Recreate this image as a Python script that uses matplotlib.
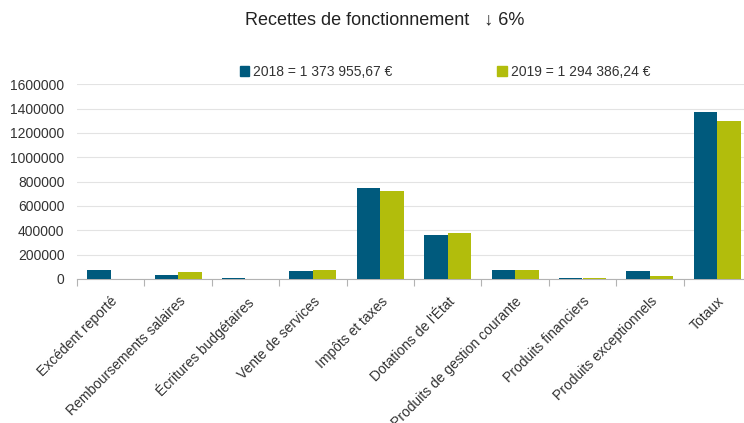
import matplotlib
matplotlib.use("Agg")
import matplotlib.pyplot as plt
from matplotlib.patches import Patch
import numpy as np

plt.rcParams['font.family'] = ['Liberation Sans', 'DejaVu Sans']

categories = ["Excédent reporté", "Remboursements salaires", "Écritures budgétaires",
              "Vente de services", "Impôts et taxes", "Dotations de l'État",
              "Produits de gestion courante", "Produits financiers",
              "Produits exceptionnels", "Totaux"]
values_2018 = [78000, 29000, 12000, 68000, 750000, 360000, 73000, 7000, 62000, 1373955.67]
values_2019 = [0, 58000, 0, 77000, 722000, 375000, 72000, 5000, 27000, 1294386.24]
series_labels = ["2018 = 1 373 955,67 €", "2019 = 1 294 386,24 €"]
title = "Recettes de fonctionnement   ↓ 6%"
yticks = [0, 200000, 400000, 600000, 800000, 1000000, 1200000, 1400000, 1600000]

c2018 = "#005a7d"
c2019 = "#b2bd0c"
text_c = "#333333"

fig = plt.figure(figsize=(7.44, 4.23), dpi=100)
ax = fig.add_axes([77/744, 144/423, 674/744, 194.7/423])

x = np.arange(len(categories))
w = 0.35
ax.bar(x - w/2, values_2018, width=w, color=c2018, zorder=3)
ax.bar(x + w/2, values_2019, width=w, color=c2019, zorder=3)

ax.set_xlim(-0.5, len(categories) - 0.5)
ax.set_ylim(0, 1600000)
ax.set_yticks(yticks)
ax.set_yticklabels([str(v) for v in yticks], fontsize=10, color=text_c)
ax.tick_params(axis='y', length=0, pad=9)
ax.yaxis.grid(True, color='#e3e3e3', linewidth=0.8, zorder=0)

ax.set_xticks(x)
ax.set_xticklabels(categories, rotation=45, ha='right', rotation_mode='anchor',
                   fontsize=10, color=text_c)
ax.tick_params(axis='x', which='major', length=0, pad=11)
ax.set_xticks(np.arange(-0.5, len(categories) + 0.5, 1), minor=True)
ax.tick_params(axis='x', which='minor', length=5, color='#b3b3b3', width=0.8)

for s in ['top', 'right', 'left']:
    ax.spines[s].set_visible(False)
ax.spines['bottom'].set_color('#b3b3b3')
ax.spines['bottom'].set_linewidth(0.8)

fig.text(385/744, 1 - 20/423, title, ha='center', va='center', fontsize=13, color='#222222')

handles = [Patch(color=c2018), Patch(color=c2019)]
fig.legend(handles, series_labels, loc='center', bbox_to_anchor=(445/744, 1 - 72/423),
           ncol=2, frameon=False, fontsize=10, handlelength=0.7, handleheight=0.7,
           handletextpad=0.3, columnspacing=7.5, labelcolor=text_c)

fig.savefig("out.png", dpi=100)
